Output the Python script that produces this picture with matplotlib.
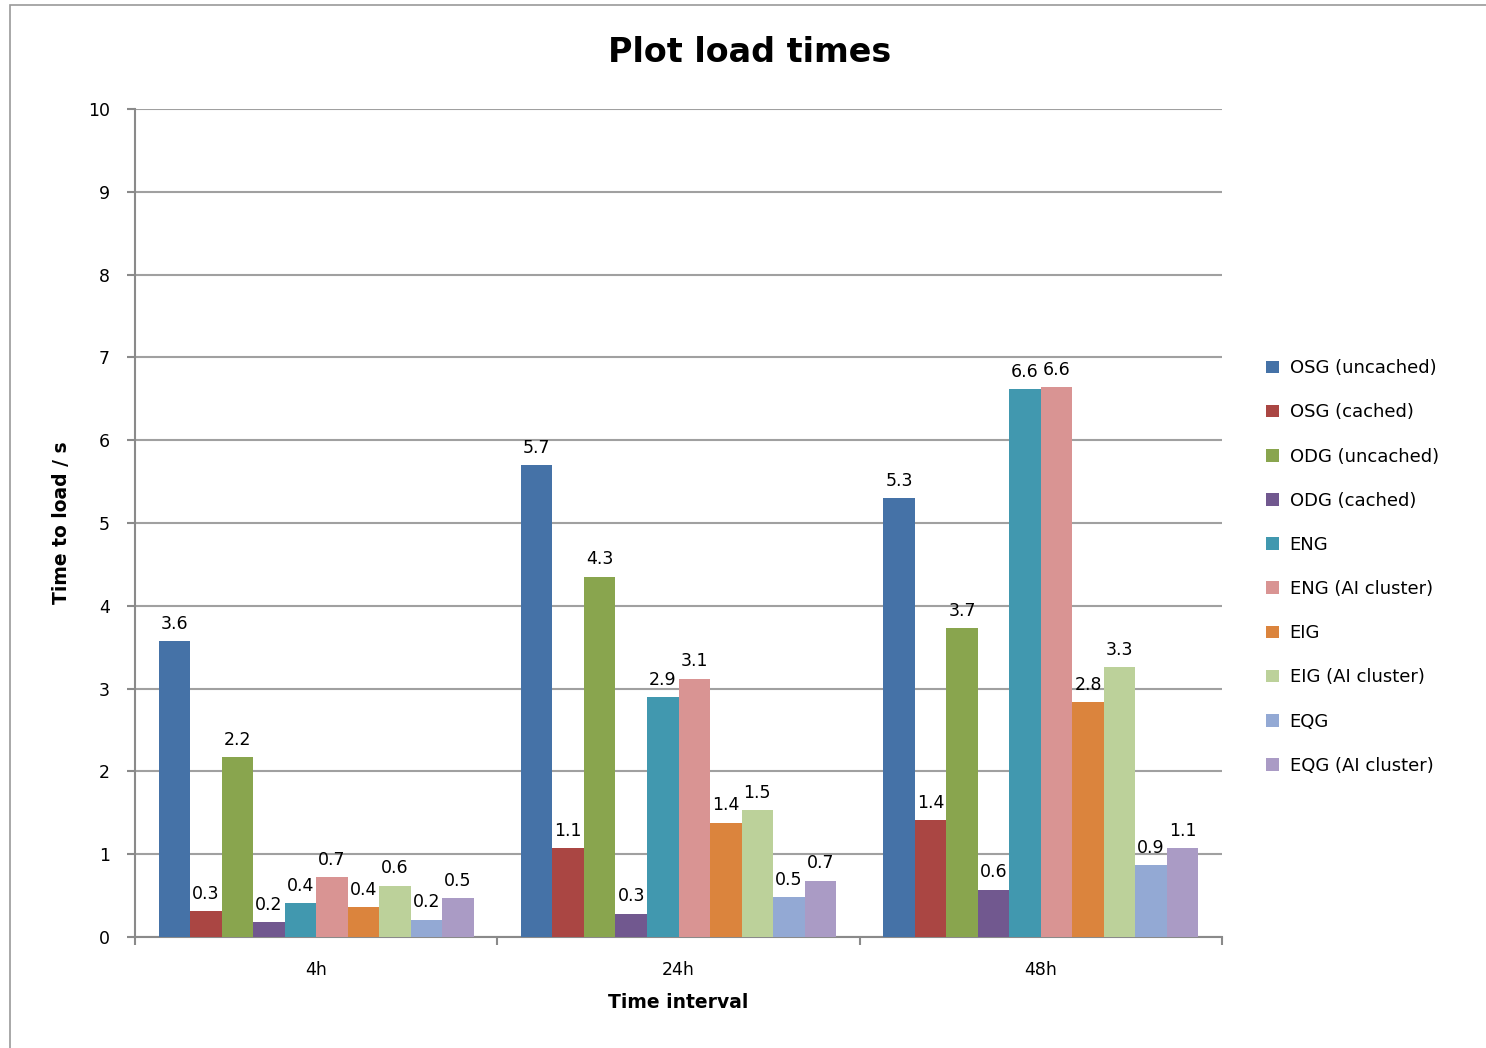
import numpy as np
import matplotlib.pyplot as plt
from matplotlib.patches import Rectangle

# data
intervals = ["4h", "24h", "48h"]
series = ["OSG (uncached)", "OSG (cached)", "ODG (uncached)", "ODG (cached)",
          "ENG", "ENG (AI cluster)", "EIG", "EIG (AI cluster)",
          "EQG", "EQG (AI cluster)"]
osg_uncached = [3.57, 5.70, 5.30]
osg_cached = [0.31, 1.07, 1.41]
odg_uncached = [2.17, 4.35, 3.73]
odg_cached = [0.18, 0.28, 0.57]
eng = [0.41, 2.90, 6.62]
eng_ai = [0.72, 3.12, 6.64]
eig = [0.36, 1.38, 2.84]
eig_ai = [0.62, 1.53, 3.26]
eqg = [0.21, 0.48, 0.87]
eqg_ai = [0.47, 0.68, 1.07]

values = [osg_uncached, osg_cached, odg_uncached, odg_cached, eng, eng_ai,
          eig, eig_ai, eqg, eqg_ai]
colors = ["#4572A7", "#AA4643", "#89A54E", "#71588F", "#4198AF",
          "#D99493", "#DB843D", "#BCD19A", "#93A9D4", "#AA9BC5"]

fig = plt.figure(figsize=(14.86, 10.48), dpi=100)
fig.patches.append(Rectangle((10 / 1486, -0.01), 1.0, 1 - 5 / 1048 + 0.01,
                             transform=fig.transFigure, fill=False,
                             edgecolor="#9a9a9a", linewidth=1.2))
ax = fig.add_axes([135 / 1486, 111 / 1048, (1222 - 135) / 1486, (937 - 109) / 1048])

n = len(series)
w = 1 / (n + 1.5)
x = np.arange(len(intervals))
for i in range(n):
    pos = x - n * w / 2 + (i + 0.5) * w
    bars = ax.bar(pos, values[i], width=w, color=colors[i], label=series[i],
                  zorder=3)
    for b, v in zip(bars, values[i]):
        ax.annotate("{:.1f}".format(v), (b.get_x() + b.get_width() / 2, v),
                    xytext=(0, 6), textcoords="offset points",
                    ha="center", va="bottom", fontsize=12.5, zorder=4)

ax.set_xlim(-0.5, len(intervals) - 0.5)
ax.set_ylim(0, 10)
ax.set_yticks(range(0, 11))
ax.set_xticks(np.arange(-0.5, len(intervals)))
ax.set_xticklabels([])
ax.set_xticks(x, minor=True)
ax.set_xticklabels(intervals, minor=True)
ax.tick_params(axis="x", which="minor", length=0, pad=17, labelsize=12.5)
ax.tick_params(axis="x", which="major", length=6, color="#8a8a8a", width=1.5)
ax.tick_params(axis="y", length=6, color="#8a8a8a", width=1.5, pad=12, labelsize=12.5)
ax.grid(axis="y", color="#a0a0a0", linewidth=1.5, zorder=0)
for s in ["top", "right"]:
    ax.spines[s].set_visible(False)
for s in ["left", "bottom"]:
    ax.spines[s].set_color("#8a8a8a")
    ax.spines[s].set_linewidth(1.5)

ax.set_xlabel("Time interval", fontsize=13.5, fontweight="bold", labelpad=10)
ax.set_ylabel("Time to load / s", fontsize=13.5, fontweight="bold", labelpad=12)
fig.text(750 / 1486, 1 - 52 / 1048, "Plot load times", ha="center",
         va="center", fontsize=24, fontweight="bold")

fig.legend(loc="center left", bbox_to_anchor=(1250 / 1486, 1 - 567 / 1048),
           frameon=False, fontsize=13, handlelength=0.7, handleheight=0.7,
           handletextpad=0.6, labelspacing=1.45)

fig.savefig("out.png", dpi=100)
